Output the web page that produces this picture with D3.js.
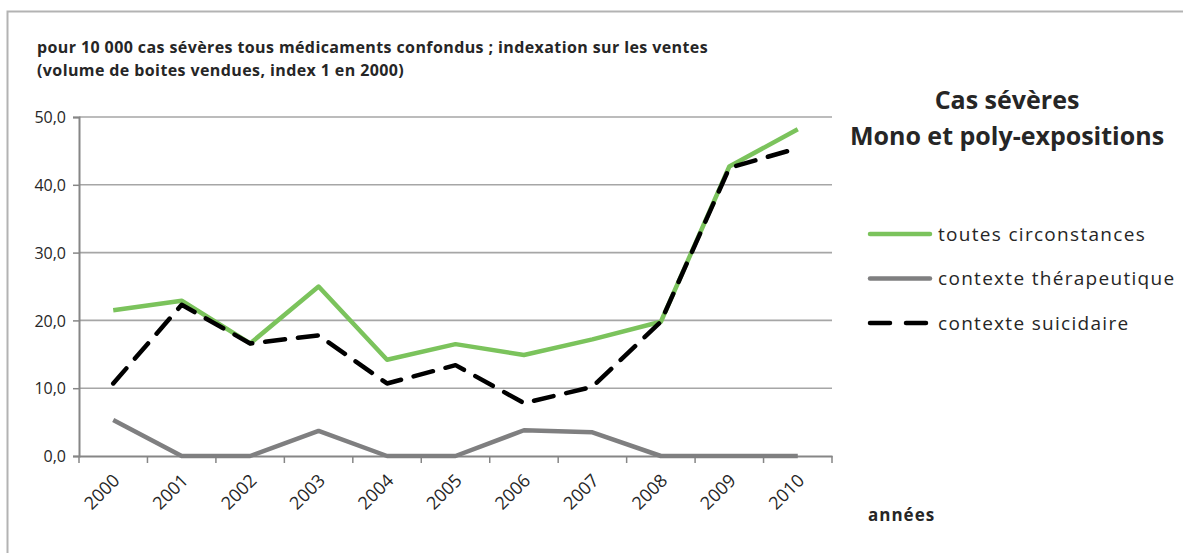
<!DOCTYPE html>
<html>
<head>
<meta charset="utf-8">
<script src="https://cdn.jsdelivr.net/npm/d3@7"></script>
<style>
html,body{margin:0;padding:0;background:#fff;}
svg{display:block;}
text{font-family:"Open Sans","Liberation Sans",sans-serif;fill:#262626;}
</style>
</head>
<body>
<svg id="chart" width="1183" height="553"></svg>
<script>
const years = ["2000","2001","2002","2003","2004","2005","2006","2007","2008","2009","2010"];
const toutesCirconstances = [21.5, 22.9, 16.6, 25.0, 14.2, 16.5, 14.9, 17.2, 19.8, 42.7, 48.2];
const contexteTherapeutique = [5.3, 0, 0, 3.7, 0, 0, 3.8, 3.5, 0, 0, 0];
const contexteSuicidaire = [10.7, 22.3, 16.6, 17.8, 10.7, 13.4, 7.8, 10.2, 19.8, 42.5, 45.4];
const yTicks = [0, 10, 20, 30, 40, 50];
const seriesNames = ["toutes circonstances", "contexte thérapeutique", "contexte suicidaire"];
const subtitleLines = ["pour 10 000 cas sévères tous médicaments confondus ; indexation sur les ventes", "(volume de boites vendues, index 1 en 2000)"];
const titleLines = ["Cas sévères", "Mono et poly-expositions"];
const xAxisLabel = "années";

const svg = d3.select("#chart");
const W = 1183, H = 553;

// frame
svg.append("path").attr("d", `M7.5,${H} V11.5 H${W}`).attr("fill","none").attr("stroke","#b3b3b3").attr("stroke-width",2);

const x = d3.scaleBand().domain(years).range([79, 832]);
const y = d3.scaleLinear().domain([0, 50]).range([456, 117]);
const cx = d => x(d) + x.bandwidth()/2;

// gridlines
svg.append("g").selectAll("line").data(yTicks.filter(t=>t>0)).join("line")
  .attr("x1", 79).attr("x2", 832)
  .attr("y1", d=>y(d)).attr("y2", d=>y(d))
  .attr("stroke","#a6a6a6").attr("stroke-width",1.6);

// y axis
const yAxis = svg.append("g").attr("transform","translate(79,0)")
  .call(d3.axisLeft(y).tickValues(yTicks).tickSize(6).tickPadding(6).tickFormat(d=>d3.format(".1f")(d).replace(".",",")));
yAxis.select(".domain").attr("stroke","#868686").attr("stroke-width",2);
yAxis.selectAll(".tick line").attr("stroke","#868686").attr("stroke-width",1.5);
yAxis.selectAll(".tick text").attr("font-size",16).attr("fill","#262626").attr("font-family","'Open Sans',sans-serif").attr("dy","0.36em").attr("x",-13);

// x axis
const xAxis = svg.append("g").attr("transform","translate(0,456)")
  .call(d3.axisBottom(x).tickSize(0).tickFormat(""));
xAxis.select(".domain").attr("stroke","#868686").attr("stroke-width",2);
const tickPos = x.domain().map(d=>x(d)).concat([x.range()[1]]);
svg.append("g").selectAll("line").data(tickPos).join("line")
  .attr("x1",d=>d).attr("x2",d=>d).attr("y1",456).attr("y2",463)
  .attr("stroke","#868686").attr("stroke-width",1.5);
svg.append("g").selectAll("text").data(years).join("text")
  .attr("transform", d=>`translate(${cx(d)},474) rotate(-45)`)
  .attr("text-anchor","end").attr("dy","0.6em")
  .attr("font-size",18).text(d=>d);

// lines
const line = d3.line().x((d,i)=>cx(years[i])).y(d=>y(d));
svg.append("path").datum(contexteTherapeutique).attr("d", line)
  .attr("fill","none").attr("stroke","#7f7f80").attr("stroke-width",4.5).attr("stroke-linejoin","round");
svg.append("path").datum(toutesCirconstances).attr("d", line)
  .attr("fill","none").attr("stroke","#7bc35c").attr("stroke-width",4.5).attr("stroke-linejoin","round");
svg.append("path").datum(contexteSuicidaire).attr("d", line)
  .attr("fill","none").attr("stroke","#000").attr("stroke-width",4.5).attr("stroke-dasharray","20,13").attr("stroke-linecap","round").attr("stroke-linejoin","round");

// subtitle
svg.append("g").selectAll("text").data(subtitleLines).join("text")
  .attr("x",37).attr("y",(d,i)=>53+i*23)
  .attr("font-size",16).attr("font-weight","bold").attr("letter-spacing","0.4")
  .text(d=>d);

// title
svg.append("g").selectAll("text").data(titleLines).join("text")
  .attr("x",1007).attr("y",(d,i)=>109+i*36)
  .attr("text-anchor","middle").attr("font-size",25).attr("font-weight","bold")
  .text(d=>d);

// legend
const legendStyles = [
  {color:"#7bc35c", dash:null},
  {color:"#7f7f80", dash:null},
  {color:"#000", dash:"20,16"}
];
const lg = svg.append("g");
seriesNames.forEach((name,i)=>{
  const ly = 234 + i*44.5;
  lg.append("line").attr("x1",870).attr("x2",930).attr("y1",ly).attr("y2",ly)
    .attr("stroke",legendStyles[i].color).attr("stroke-width",4.5).attr("stroke-linecap","round")
    .attr("stroke-dasharray",legendStyles[i].dash);
  lg.append("text").attr("x",938).attr("y",ly).attr("dy","0.35em").attr("font-size",19).attr("letter-spacing","1.3").attr("fill","#262626").text(name);
});

// x axis label
svg.append("text").attr("x",868).attr("y",521).attr("font-size",17).attr("letter-spacing","1").attr("font-weight","bold").text(xAxisLabel);
</script>
</body>
</html>
